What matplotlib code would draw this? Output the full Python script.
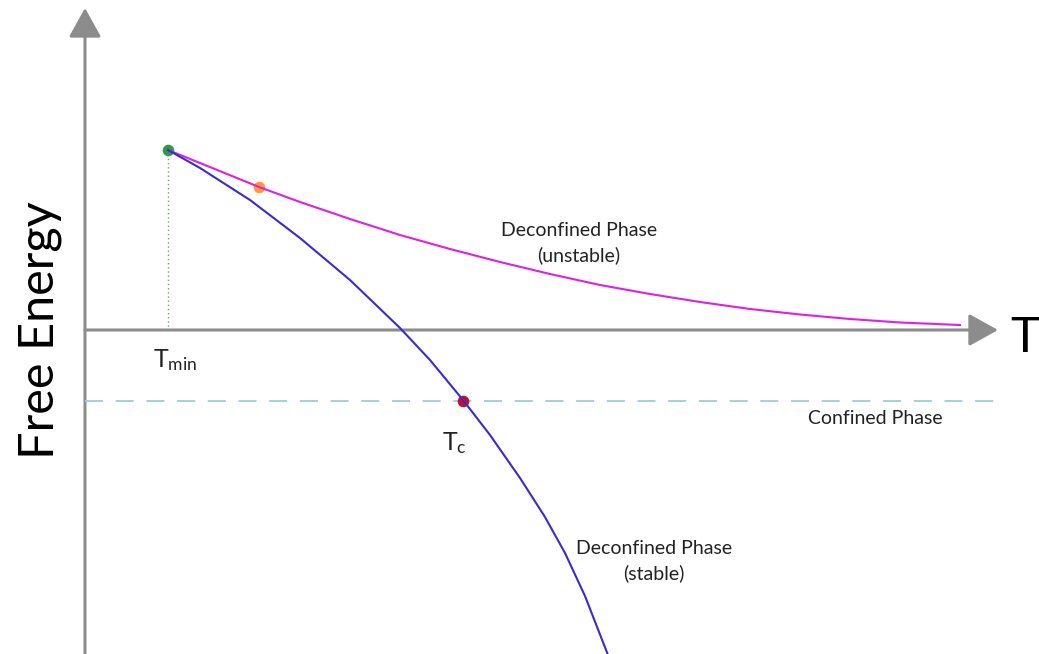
import matplotlib

matplotlib.use("Agg")
import matplotlib.pyplot as plt

plt.rcParams["font.family"] = ["Lato", "DejaVu Sans"]
plt.rcParams["mathtext.fontset"] = "custom"
plt.rcParams["mathtext.rm"] = "Lato"
plt.rcParams["mathtext.it"] = "Lato"

# unstable deconfined branch (magenta)
unstable_T = [0.83, 1.74, 2.15, 2.65, 3.15, 3.65, 4.15, 4.65, 5.15, 5.65,
              6.15, 6.65, 7.15, 7.65, 8.15, 8.75]
unstable_F = [1.80, 1.43, 1.28, 1.11, 0.95, 0.81, 0.68, 0.56, 0.45, 0.36,
              0.28, 0.21, 0.155, 0.11, 0.075, 0.05]

# stable deconfined branch (blue)
stable_T = [0.83, 1.15, 1.65, 2.15, 2.65, 3.15, 3.45, 3.78, 4.05, 4.35,
            4.60, 4.80, 5.00, 5.23]
stable_F = [1.80, 1.62, 1.30, 0.92, 0.50, 0.02, -0.30, -0.70, -1.05, -1.48,
            -1.87, -2.23, -2.66, -3.25]

# confined phase free energy
F_confined = -0.71

# marked points
T_min, F_min = 0.83, 1.80
T_mid, F_mid = 1.74, 1.43
T_c = 3.78

AXIS_GREY = "#8c8c8c"
TEXT = "#222222"

fig = plt.figure(figsize=(10.39, 6.54), dpi=100)
fig.patch.set_facecolor("white")
ax = fig.add_axes([0, 0, 1, 1])
ax.set_xlim(-0.85, 9.54)
ax.set_ylim(-3.24, 3.30)
ax.axis("off")

# axes drawn as arrows
arrow = dict(arrowstyle="-|>,head_length=0.9,head_width=0.5", color=AXIS_GREY,
             lw=2.2, shrinkA=0, shrinkB=0, mutation_scale=20)
ax.annotate("", xy=(0, 3.22), xytext=(0, -3.30), arrowprops=arrow, zorder=1)
ax.annotate("", xy=(9.13, 0), xytext=(0, 0), arrowprops=arrow, zorder=1)

# confined phase line
ax.plot([0, 9.15], [F_confined, F_confined], color="#9ccbe0", lw=1.3,
        dashes=(10, 7), zorder=2)

# T_min guide
ax.plot([T_min, T_min], [F_min, 0], color="#6aa86f", lw=1.0, ls=(0, (1, 2)), zorder=2)

# dots (under the curves)
ax.scatter([T_min], [F_min], s=70, color="#2f9a48", zorder=3, linewidths=0)
ax.scatter([T_mid], [F_mid], s=70, color="#ff9a3c", zorder=3, linewidths=0)
ax.scatter([T_c], [F_confined], s=70, color="#c01030", zorder=3, linewidths=0)

ax.plot(unstable_T, unstable_F, color="#e020e0", lw=1.5, zorder=4)
ax.plot(stable_T, stable_F, color="#3a2ad0", lw=1.5, zorder=4)

# labels
ax.text(-0.45, 0.0, "Free Energy", rotation=90, fontsize=35, color="black",
        ha="center", va="center")
ax.text(9.25, -0.08, "T", fontsize=35, color="black", ha="left", va="center")
ax.text(T_min + 0.07, -0.30, r"$\mathrm{T}_{\mathrm{min}}$", fontsize=18, color=TEXT,
        ha="center", va="center")
ax.text(T_c - 0.09, -1.13, r"$\mathrm{T}_{\mathrm{c}}$", fontsize=18, color=TEXT,
        ha="center", va="center")
ax.text(4.94, 0.87, "Deconfined Phase\n(unstable)", fontsize=14, color=TEXT,
        ha="center", va="center", linespacing=1.5)
ax.text(5.69, -2.31, "Deconfined Phase\n(stable)", fontsize=14, color=TEXT,
        ha="center", va="center", linespacing=1.5)
ax.text(7.90, -0.88, "Confined Phase", fontsize=14, color=TEXT,
        ha="center", va="center")

fig.savefig("out.png", dpi=100)
plt.close(fig)
